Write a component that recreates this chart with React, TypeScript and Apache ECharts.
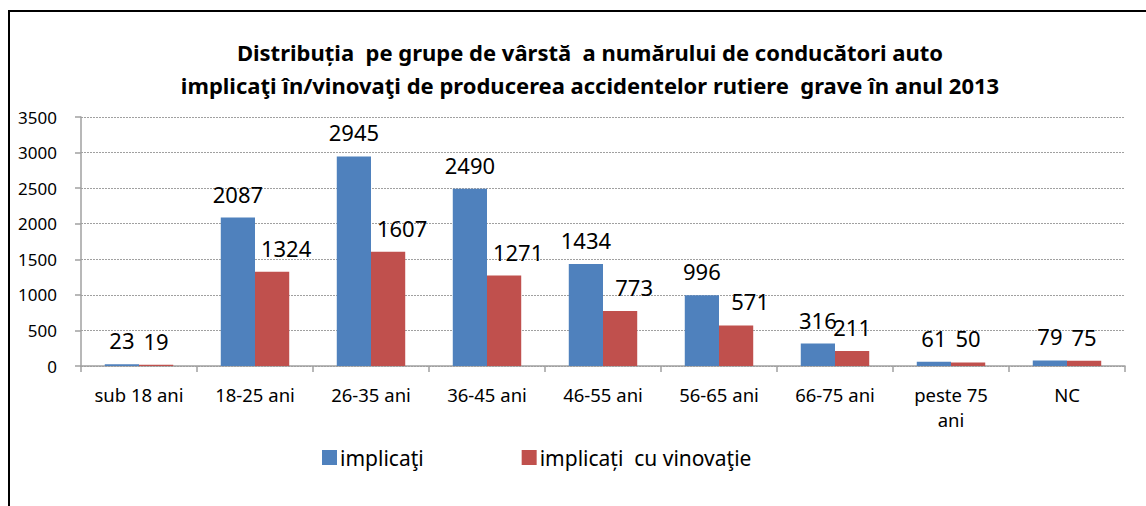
import React, { useEffect, useRef } from "react";
import * as echarts from "echarts";

const categories = ["sub 18 ani", "18-25 ani", "26-35 ani", "36-45 ani", "46-55 ani", "56-65 ani", "66-75 ani", "peste 75\nani", "NC"];
const implicati = [23, 2087, 2945, 2490, 1434, 996, 316, 61, 79];
const vinovatie = [19, 1324, 1607, 1271, 773, 571, 211, 50, 75];
const seriesNames = ["implicaţi", "implicați  cu vinovaţie"];
const titleText = "Distribuția  pe grupe de vârstă  a numărului de conducători auto\nimplicaţi în/vinovaţi de producerea accidentelor rutiere  grave în anul 2013";

const FONT = "'Noto Sans', 'DejaVu Sans', sans-serif";

export default function App() {
  const ref = useRef<HTMLDivElement>(null);
  useEffect(() => {
    if (!ref.current) return;
    const chart = echarts.init(ref.current, null, { renderer: "svg" });
    chart.setOption({
      animation: false,
      backgroundColor: "#ffffff",
      title: {
        text: titleText,
        left: 585,
        top: 30,
        textAlign: "center",
        textStyle: { fontFamily: FONT, fontSize: 22, fontWeight: "bold", color: "#000", lineHeight: 33 },
      },
      graphic: [
        {
          type: "rect",
          shape: { x: 9, y: 11, width: 1150, height: 510 },
          style: { fill: "none", stroke: "#000", lineWidth: 2 },
          silent: true,
        },
      ],
      legend: {
        left: 317,
        top: 442,
        itemWidth: 15,
        itemHeight: 15,
        itemGap: 98,
        icon: "rect",
        textStyle: { fontFamily: FONT, fontSize: 21, color: "#000", padding: [0, 0, 0, -2] },
        data: seriesNames,
      },
      grid: { left: 81, right: 21, top: 117, bottom: 140 },
      xAxis: {
        type: "category",
        data: categories,
        axisLine: { lineStyle: { color: "#a0a0a0", width: 1.5 } },
        axisTick: { show: true, length: 6, lineStyle: { color: "#a0a0a0", width: 1.5 } },
        axisLabel: { fontFamily: FONT, fontSize: 18.5, color: "#000", margin: 16, lineHeight: 25 },
      },
      yAxis: {
        type: "value",
        min: 0,
        max: 3500,
        interval: 500,
        axisLine: { show: true, lineStyle: { color: "#a0a0a0", width: 1.5 } },
        axisTick: { show: true, length: 6, lineStyle: { color: "#a0a0a0", width: 1.5 } },
        axisLabel: { fontFamily: FONT, fontSize: 17, color: "#000", margin: 24, formatter: (v: number) => String(v) },
        splitLine: { lineStyle: { color: "#a0a0a0", type: [2, 1], width: 1 } },
      },
      series: [
        {
          name: seriesNames[0],
          type: "bar",
          data: implicati,
          barGap: "0%",
          barCategoryGap: "41%",
          itemStyle: { color: "#4F81BD" },
          label: {
            show: true,
            position: "top",
            distance: 13,
            fontFamily: FONT,
            fontSize: 22,
            color: "#000",
          },
        },
        {
          name: seriesNames[1],
          type: "bar",
          data: vinovatie.map((v) => ({
            value: v,
            label: v >= 500 ? { offset: [14, 0] } : {},
          })),
          barGap: "0%",
          barCategoryGap: "41%",
          itemStyle: { color: "#C0504D" },
          label: {
            show: true,
            position: "top",
            distance: 13,
            fontFamily: FONT,
            fontSize: 22,
            color: "#000",
          },
        },
      ],
    });
    return () => chart.dispose();
  }, []);
  return (
    <div
      ref={ref}
      style={{ position: "absolute", left: 0, top: 0, width: 1146, height: 506 }}
    />
  );
}
